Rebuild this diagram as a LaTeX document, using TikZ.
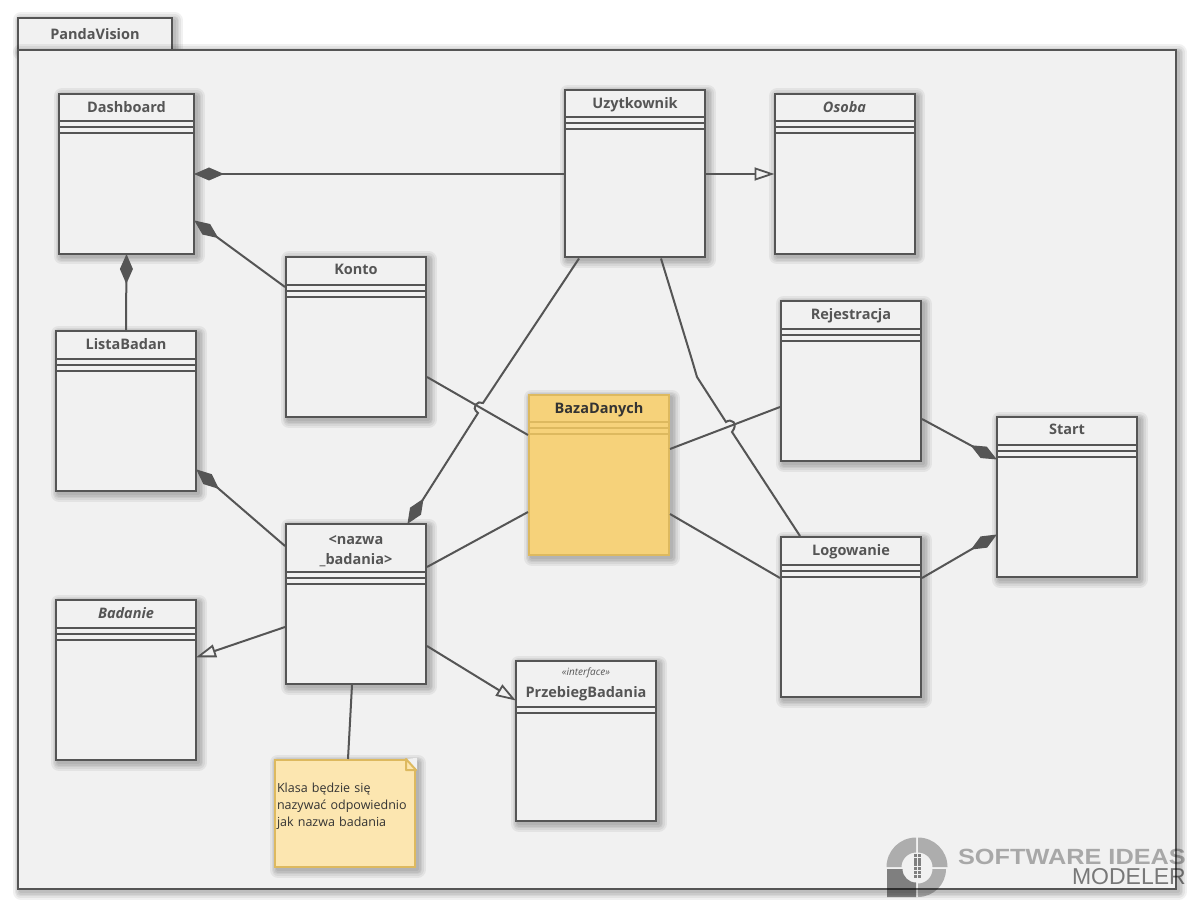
\documentclass[tikz,border=0pt]{standalone}
\usepackage{fontspec}
\setmainfont{Open Sans}
\newfontfamily\wmfont{Liberation Sans}
\newfontfamily\wmwide[FakeStretch=1.15]{Liberation Sans}
\usetikzlibrary{positioning, arrows.meta}

\definecolor{panelbg}{HTML}{F1F1F1}
\definecolor{umlline}{HTML}{555555}
\definecolor{bazafill}{HTML}{F6D27A}
\definecolor{bazaline}{HTML}{DDB95F}
\definecolor{notefill}{HTML}{FCE6B0}
\definecolor{inktext}{HTML}{333333}

\tikzset{
  shadowring/.style={preaction={draw=black, draw opacity=0.055, fill=none, line width=#1, line join=round, transform canvas={shift={(2.5pt,-2.5pt)}}}},
  softshadow/.style={shadowring=16pt, shadowring=12pt, shadowring=9pt, shadowring=6pt, shadowring=3pt},
  rules/.store in=\classrules, rules={0,6,12},
  rule color/.store in=\classrulecolor, rule color=umlline,
  umlclass/.style={draw=umlline, line width=2pt, fill=panelbg, minimum width=140pt, minimum height=160pt, softshadow,
    path picture={\foreach \k in \classrules
      \draw[line width=2pt, \classrulecolor] ([yshift=-#1-\k]path picture bounding box.north west) -- ([yshift=-#1-\k]path picture bounding box.north east);}},
  umlclass/.default=27,
  classname/.style={anchor=north, inner sep=8pt, align=center, text=umlline, font=\fontsize{14.5}{20}\selectfont\bfseries},
  composition/.style={{Diamond[length=30pt, width=13pt]}-, shorten <=-1pt},
  compositionto/.style={-{Diamond[length=30pt, width=13pt]}, shorten >=-1pt},
  generalization/.style={-{Triangle[open, fill=panelbg, length=20pt, width=13pt, line width=1.8pt]}, shorten >=-1pt},
  link/.style={draw=umlline, fill=none, line width=2pt},
  wmlight/.style={fill=black, fill opacity=0.28},
  wmdark/.style={fill=black, fill opacity=0.47},
}

\begin{document}
\begin{tikzpicture}[x=1pt, y=-1pt, on grid]
  \useasboundingbox[fill=white] (0,0) rectangle (1196,909);

  % package
  \node[draw=umlline, line width=2pt, fill=panelbg, minimum width=154pt, minimum height=32pt, softshadow] (tab) at (95,34) {};
  \node[classname, anchor=center] (tabname) at (tab) {PandaVision};
  \node[draw=umlline, line width=2pt, fill=panelbg, minimum width=1158pt, minimum height=839pt, softshadow] (panel) at (597,469.5) {};

  % classes
  \node[umlclass, minimum width=135pt, label={[classname]north:Dashboard}] (dashboard) at (126.5,174) {};
  \node[umlclass, minimum height=167pt, label={[classname]north:Uzytkownik}] (uzytkownik) [right=508.5pt of dashboard] {};
  \node[umlclass, label={[classname, font=\fontsize{14.5}{20}\selectfont\bfseries\itshape]north:Osoba}] (osoba) [right=209.5pt of uzytkownik] {};
  \node[umlclass=28, label={[classname]north:Konto}] (konto) [below right=163pt and 229.5pt of dashboard] {};
  \node[umlclass=28, label={[classname]north:ListaBadan}] (listabadan) [below left=237pt and 0.5pt of dashboard] {};
  \node[umlclass=48, label={[classname, inner sep=12pt]north:{<nazwa\\\_badania>}}] (nazwa) [below=267pt of konto] {};
  \node[umlclass=28, label={[classname, font=\fontsize{14.5}{20}\selectfont\bfseries\itshape]north:Badanie}] (badanie) [below=269pt of listabadan] {};
  \node[umlclass=27, fill=bazafill, draw=bazaline, rule color=bazaline, label={[classname, text=inktext]north:BazaDanych}] (baza) [above right=129pt and 243pt of nazwa] {};
  \node[umlclass=46, rules={0,6}, label={[classname]north:{{\fontsize{10}{12}\selectfont\mdseries\itshape «interface»}\\[2pt]PrzebiegBadania}}] (przebieg) [below right=137pt and 230pt of nazwa] {};
  \node[umlclass=28, label={[classname]north:Rejestracja}] (rejestracja) [above right=94pt and 252pt of baza] {};
  \node[umlclass=28, label={[classname]north:Logowanie}] (logowanie) [below=236pt of rejestracja] {};
  \node[umlclass=28, label={[classname]north:Start}] (start) [below right=116pt and 216pt of rejestracja] {};

  % note
  \node[draw=bazaline, line width=2pt, fill=notefill, minimum width=140pt, minimum height=107pt, softshadow, text=inktext, text width=136pt, inner sep=1pt, align=left, font=\fontsize{12.5}{17}\selectfont] (note) [below left=209.5pt and 11pt of nazwa] {Klasa będzie się\\nazywać odpowiednio\\jak nazwa badania\\\mbox{}};
  \fill[panelbg] ([xshift=-10pt]note.north east) -- ([yshift=1.2pt, xshift=1.2pt]note.north east) -- ([yshift=-11pt, xshift=1.2pt]note.north east) -- cycle;
  \draw[bazaline, line width=2pt, line join=round] ([xshift=-10pt]note.north east) -- ([xshift=-10pt, yshift=-11pt]note.north east) -- ([yshift=-11pt]note.north east) -- cycle;

  % connectors
  \draw[link, composition] (dashboard.east) -- (uzytkownik.west);
  \draw[link, composition] ([yshift=-47pt]dashboard.east) -- ([yshift=50pt]konto.west);
  \draw[link, composition] (dashboard.south) -- (listabadan.north);
  \draw[link, composition] ([yshift=-59pt]listabadan.east) -- ([yshift=58pt]nazwa.west);
  \draw[link, generalization] (uzytkownik.east) -- (osoba.west);
  \draw[link, generalization] ([yshift=-23pt]nazwa.west) -- ([yshift=23pt]badanie.east);
  \draw[link, generalization] ([yshift=-42pt]nazwa.east) -- ([yshift=41pt]przebieg.west);
  \draw[link] ([xshift=-4pt]nazwa.south) -- ([xshift=3pt]note.north);
  \draw[link] ([yshift=37pt]nazwa.east) -- ([yshift=-37pt]baza.west);
  \draw[link] ([yshift=-40pt]konto.east) -- ([yshift=40pt]baza.west);
  \draw[link] ([yshift=26pt]baza.east) -- ([yshift=-26pt]rejestracja.west);
  \draw[link] ([yshift=-39pt]baza.east) -- ([yshift=39pt]logowanie.west);
  \draw[link, compositionto] ([yshift=-38pt]rejestracja.east) -- ([yshift=38pt]start.west);
  \draw[link, compositionto] ([yshift=39pt]logowanie.east) -- ([yshift=-38pt]start.west);
  \draw[link, compositionto] ([xshift=15pt]uzytkownik.south west) -- (483,403) .. controls (478,400) and (470,407) .. (478,413) -- ([xshift=52pt]nazwa.north);
  \draw[link] ([xshift=26pt]uzytkownik.south) -- (692,360) -- (697,377) -- (726,422) .. controls (731,418) and (739,423) .. (732,432) -- ([xshift=-51pt]logowanie.north);

  % watermark
  \fill[wmlight] (916,852.5) arc[start angle=90, end angle=180, radius=14.5pt] -- (886.5,867) arc[start angle=180, end angle=90, radius=29.5pt] -- cycle;
  \fill[wmlight] (918,852.5) arc[start angle=90, end angle=0, radius=14.5pt] -- (947.5,867) arc[start angle=0, end angle=90, radius=29.5pt] -- cycle;
  \fill[wmlight] (932.5,869) arc[start angle=0, end angle=-90, radius=14.5pt] -- (918,897) arc[start angle=-90, end angle=0, radius=28pt] -- cycle;
  \fill[wmdark] (887,869) -- (902.5,869) arc[start angle=180, end angle=270, radius=13.5pt] -- (916,897) -- (887,897) -- cycle;
  \foreach \r in {0,...,5}
    \foreach \c in {0,1}
      \fill[wmdark] (913.5+4.1*\c,854+4.2*\r) rectangle +(3.4,3.4);
  \node[anchor=east, inner sep=0pt, text opacity=0.3, font=\fontsize{22}{22}\wmwide\bfseries] (wmsoftware) at (1186,857) {SOFTWARE IDEAS};
  \node[anchor=east, inner sep=0pt, text opacity=0.5, font=\fontsize{23}{23}\wmfont] (wmmodeler) at (1186,877) {MODELER};
\end{tikzpicture}
\end{document}
